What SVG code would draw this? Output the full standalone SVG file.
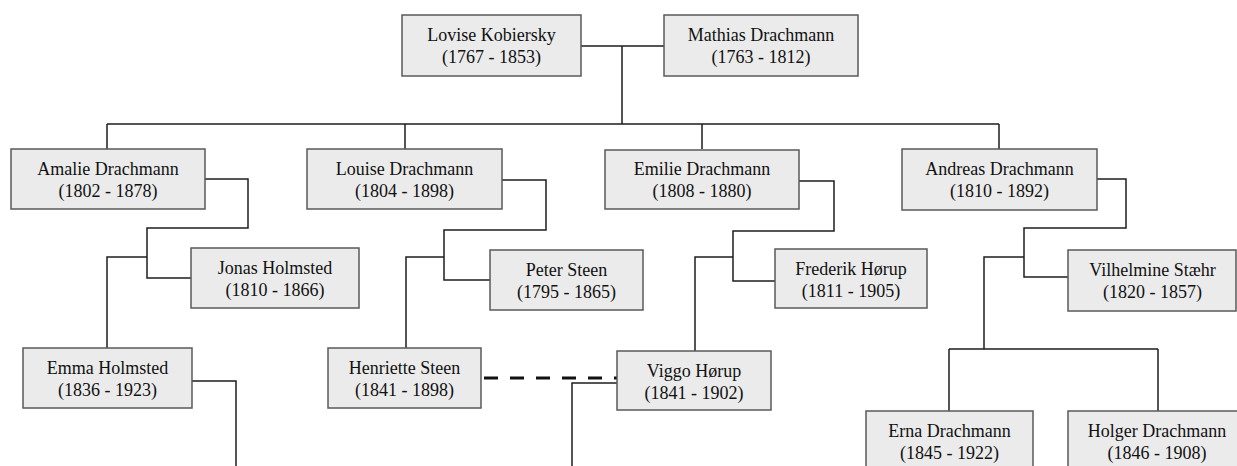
<svg xmlns="http://www.w3.org/2000/svg" width="1237" height="466" viewBox="0 0 1237 466">
<style>
.box{fill:#ebebeb;stroke:#5a5a5a;stroke-width:1.5}
.t{font-family:"Liberation Serif","Times New Roman",serif;font-size:18px;fill:#111;text-anchor:middle}
.ln{fill:none;stroke:#1e1e1e;stroke-width:1.5}
.dash{fill:none;stroke:#111;stroke-width:3;stroke-dasharray:14 12}
</style>
<rect width="1237" height="466" fill="#fff"/>
<g id="connectors">
<path class="ln" d="M581 46H664M622 46V124M107 124H999M107 124V149M405 124V149M702 124V149M999 124V149"/>
<path class="ln" d="M205 179H248V228H147V278H191M147 257H107V348"/>
<path class="ln" d="M502 180H546V230H444V280H490M444 257H406V348"/>
<path class="ln" d="M799 181H834V231H733V281H775M733 257H695V351"/>
<path class="ln" d="M1097 179H1126V228H1024V277H1068M1024 257H984V349M949 349H1158M949 349V411M1158 349V411"/>
<path class="ln" d="M192 381H236V466"/>
<path class="ln" d="M617 383H572V466"/>
<path class="dash" d="M484 378H617"/>
</g>
<g id="lovise"><rect class="box" x="402" y="15" width="179" height="61"/><text class="t" x="491.5" y="41">Lovise Kobiersky</text><text class="t" x="491.5" y="63">(1767 - 1853)</text></g>
<g id="mathias"><rect class="box" x="664" y="15" width="194" height="61"/><text class="t" x="761" y="41">Mathias Drachmann</text><text class="t" x="761" y="63">(1763 - 1812)</text></g>
<g id="amalie"><rect class="box" x="11" y="149" width="194" height="60"/><text class="t" x="108" y="175">Amalie Drachmann</text><text class="t" x="108" y="197">(1802 - 1878)</text></g>
<g id="louise"><rect class="box" x="307" y="149" width="195" height="60"/><text class="t" x="404.5" y="175">Louise Drachmann</text><text class="t" x="404.5" y="197">(1804 - 1898)</text></g>
<g id="emilie"><rect class="box" x="605" y="150" width="194" height="59"/><text class="t" x="702" y="175">Emilie Drachmann</text><text class="t" x="702" y="197">(1808 - 1880)</text></g>
<g id="andreas"><rect class="box" x="902" y="149" width="195" height="61"/><text class="t" x="999.5" y="175">Andreas Drachmann</text><text class="t" x="999.5" y="197">(1810 - 1892)</text></g>
<g id="jonas"><rect class="box" x="191" y="248" width="168" height="60"/><text class="t" x="275" y="274">Jonas Holmsted</text><text class="t" x="275" y="296">(1810 - 1866)</text></g>
<g id="peter"><rect class="box" x="490" y="250" width="153" height="60"/><text class="t" x="566.5" y="276">Peter Steen</text><text class="t" x="566.5" y="298">(1795 - 1865)</text></g>
<g id="frederik"><rect class="box" x="775" y="249" width="152" height="59"/><text class="t" x="851" y="275">Frederik Hørup</text><text class="t" x="851" y="297">(1811 - 1905)</text></g>
<g id="vilhelmine"><rect class="box" x="1068" y="250" width="168" height="61"/><text class="t" x="1152.5" y="276">Vilhelmine Stæhr</text><text class="t" x="1152.5" y="298">(1820 - 1857)</text></g>
<g id="emma"><rect class="box" x="23" y="348" width="169" height="60"/><text class="t" x="107.5" y="374">Emma Holmsted</text><text class="t" x="107.5" y="396">(1836 - 1923)</text></g>
<g id="henriette"><rect class="box" x="328" y="348" width="153" height="60"/><text class="t" x="404.5" y="374">Henriette Steen</text><text class="t" x="404.5" y="396">(1841 - 1898)</text></g>
<g id="viggo"><rect class="box" x="617" y="351" width="154" height="59"/><text class="t" x="694" y="377">Viggo Hørup</text><text class="t" x="694" y="399">(1841 - 1902)</text></g>
<g id="erna"><rect class="box" x="866" y="411" width="167" height="60"/><text class="t" x="949.5" y="437">Erna Drachmann</text><text class="t" x="949.5" y="459">(1845 - 1922)</text></g>
<g id="holger"><rect class="box" x="1068" y="411" width="178" height="60"/><text class="t" x="1157" y="437">Holger Drachmann</text><text class="t" x="1157" y="459">(1846 - 1908)</text></g>
</svg>
